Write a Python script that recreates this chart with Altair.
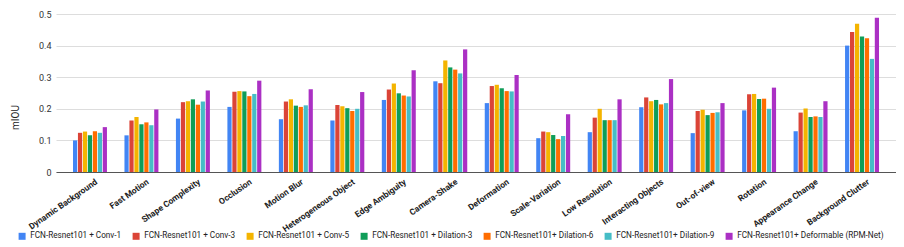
import altair as alt
import pandas as pd

categories = ["Dynamic Background", "Fast Motion", "Shape Complexity", "Occlusion",
              "Motion Blur", "Heterogeneous Object", "Edge Ambiguity", "Camera-Shake",
              "Deformation", "Scale-Variation", "Low Resolution", "Interacting Objects",
              "Out-of-view", "Rotation", "Appearance Change", "Background Clutter"]

series = ["FCN-Resnet101 + Conv-1", "FCN-Resnet101 + Conv-3", "FCN-Resnet101 + Conv-5",
          "FCN-Resnet101 + Dilation-3", "FCN-Resnet101+ Dilation-6",
          "FCN-Resnet101+ Dilation-9", "FCN-Resnet101+ Deformable (RPM-Net)"]

conv1 = [0.100, 0.116, 0.169, 0.206, 0.167, 0.163, 0.228, 0.287, 0.218, 0.107, 0.126, 0.205, 0.123, 0.195, 0.129, 0.400]
conv3 = [0.124, 0.163, 0.221, 0.254, 0.223, 0.212, 0.261, 0.281, 0.272, 0.128, 0.172, 0.236, 0.193, 0.246, 0.188, 0.443]
conv5 = [0.128, 0.174, 0.224, 0.256, 0.230, 0.208, 0.280, 0.353, 0.276, 0.126, 0.200, 0.224, 0.197, 0.247, 0.201, 0.469]
dil3 = [0.116, 0.151, 0.230, 0.255, 0.210, 0.202, 0.249, 0.331, 0.265, 0.117, 0.164, 0.228, 0.180, 0.231, 0.174, 0.429]
dil6 = [0.129, 0.157, 0.213, 0.240, 0.206, 0.193, 0.242, 0.324, 0.256, 0.104, 0.164, 0.214, 0.187, 0.232, 0.176, 0.423]
dil9 = [0.124, 0.148, 0.223, 0.247, 0.211, 0.200, 0.239, 0.312, 0.255, 0.114, 0.164, 0.218, 0.189, 0.200, 0.174, 0.358]
deform = [0.142, 0.198, 0.258, 0.289, 0.262, 0.253, 0.322, 0.388, 0.307, 0.183, 0.230, 0.294, 0.218, 0.267, 0.224, 0.488]

colors = ["#4285F4", "#DB4437", "#F4B400", "#0F9D58", "#FF6D00", "#46BDC6", "#AB30C4"]
y_ticks = [0, 0.1, 0.2, 0.3, 0.4, 0.5]

all_vals = [conv1, conv3, conv5, dil3, dil6, dil9, deform]
rows = []
for s, vals in zip(series, all_vals):
    for c, v in zip(categories, vals):
        rows.append({"category": c, "series": s, "value": v})
df = pd.DataFrame(rows)

FONT = "Roboto"

chart = alt.Chart(df).mark_bar().encode(
    x=alt.X("category:N", sort=categories, title=None,
            scale=alt.Scale(paddingInner=0.34, paddingOuter=0.33),
            axis=alt.Axis(labelAngle=-35, labelAlign="right", labelBaseline="top",
                          labelPadding=5, labelOffset=4, labelFontWeight="bold",
                          labelFontSize=8.5, labelColor="#222222", labelFont=FONT,
                          ticks=False, domain=True, domainColor="#555555",
                          labelLimit=200, labelOverlap=False)),
    xOffset=alt.XOffset("series:N", sort=series, scale=alt.Scale(paddingInner=0.15)),
    y=alt.Y("value:Q", title="mIOU",
            scale=alt.Scale(domain=[0, 0.5], nice=False),
            axis=alt.Axis(values=y_ticks, labelExpr="datum.value == 0 ? '0' : format(datum.value, '.1f')",
                          ticks=False, domain=False, gridColor="#dddddd",
                          labelFontSize=9, labelColor="#333333", labelFont=FONT,
                          labelPadding=5, titleFont=FONT, titleFontSize=10,
                          titleFontWeight="normal", titleColor="#222222",
                          titleX=-36, titleY=103)),
    color=alt.Color("series:N", sort=series, title=None,
                    scale=alt.Scale(domain=series, range=colors),
                    legend=alt.Legend(orient="none", legendX=-38, legendY=218,
                                      direction="horizontal", symbolType="square",
                                      symbolSize=49, symbolStrokeWidth=0,
                                      labelFontSize=8.2, labelFont=FONT,
                                      labelColor="#222222", labelLimit=300,
                                      columnPadding=10, labelOffset=4, columns=7)),
).properties(
    width=840, height=158,
    padding={"left": 48, "top": 6, "right": 0, "bottom": 69},
    autosize=alt.AutoSizeParams(type="none"),
).configure_view(stroke=None)

chart.save("out.html", embed_options={"renderer": "svg", "actions": False})
